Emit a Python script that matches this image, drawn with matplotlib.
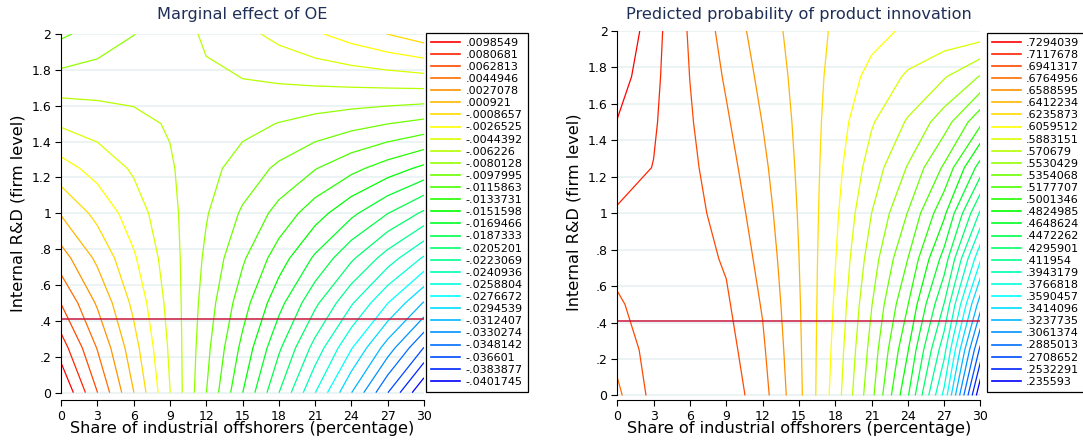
import matplotlib
matplotlib.use("Agg")
import matplotlib.pyplot as plt
from matplotlib.colors import hsv_to_rgb
from matplotlib.lines import Line2D

# grid the surfaces were evaluated on
offshore_share = [0, 3, 6, 9, 12, 15, 18, 21, 24, 27, 30]
rd_level = [0, 0.25, 0.5, 0.75, 1.0, 1.25, 1.5, 1.75, 2.0]
rd_mean = 0.41

# marginal effect of OE, one row per R&D level
marginal_effect = [
    [0.011680, 0.006320, 0.000959, -0.004401, -0.009762, -0.015122, -0.020482, -0.025843, -0.031203, -0.036564, -0.041924],
    [0.008956, 0.004394, -0.000167, -0.004729, -0.009290, -0.013852, -0.018414, -0.022975, -0.027537, -0.032099, -0.036660],
    [0.006233, 0.002470, -0.001293, -0.005056, -0.008819, -0.012582, -0.016345, -0.020108, -0.023871, -0.027633, -0.031396],
    [0.003509, 0.000545, -0.002419, -0.005384, -0.008348, -0.011312, -0.014276, -0.017240, -0.020204, -0.023168, -0.026132],
    [0.000785, -0.001381, -0.003546, -0.005711, -0.007877, -0.010042, -0.012207, -0.014373, -0.016538, -0.018704, -0.020869],
    [-0.001939, -0.003305, -0.004672, -0.006039, -0.007405, -0.008772, -0.010139, -0.011505, -0.012872, -0.014239, -0.015606],
    [-0.004663, -0.005230, -0.005798, -0.006366, -0.006934, -0.007502, -0.008070, -0.008638, -0.009206, -0.009774, -0.010342],
    [-0.007386, -0.007155, -0.006924, -0.006694, -0.006463, -0.006232, -0.006001, -0.005770, -0.005540, -0.005309, -0.005078],
    [-0.010110, -0.009080, -0.008051, -0.007021, -0.005992, -0.004962, -0.003932, -0.002903, -0.001873, -0.000844, 0.000186],
]
me_levels = [.0098549, .0080681, .0062813, .0044946, .0027078, .000921, -.0008657,
             -.0026525, -.0044392, -.006226, -.0080128, -.0097995, -.0115863,
             -.0133731, -.0151598, -.0169466, -.0187333, -.0205201, -.0223069,
             -.0240936, -.0258804, -.0276672, -.0294539, -.0312407, -.0330274,
             -.0348142, -.036601, -.0383877, -.0401745]

# predicted probability of product innovation
prob_innovation = [
    [0.6728, 0.6998, 0.7074, 0.7056, 0.6834, 0.6458, 0.5980, 0.5405, 0.4666, 0.3714, 0.2180],
    [0.6821, 0.7021, 0.7054, 0.7011, 0.6792, 0.6443, 0.6009, 0.5469, 0.4836, 0.4001, 0.2657],
    [0.6914, 0.7044, 0.7035, 0.6966, 0.6751, 0.6429, 0.6038, 0.5539, 0.5007, 0.4288, 0.3134],
    [0.7008, 0.7067, 0.7016, 0.6922, 0.6709, 0.6414, 0.6067, 0.5619, 0.5177, 0.4575, 0.3611],
    [0.7101, 0.7090, 0.6997, 0.6877, 0.6668, 0.6400, 0.6096, 0.5707, 0.5347, 0.4862, 0.4088],
    [0.7194, 0.7113, 0.6978, 0.6832, 0.6627, 0.6385, 0.6125, 0.5804, 0.5517, 0.5149, 0.4565],
    [0.7287, 0.7137, 0.6958, 0.6787, 0.6585, 0.6371, 0.6153, 0.5901, 0.5687, 0.5436, 0.5042],
    [0.7381, 0.7160, 0.6939, 0.6743, 0.6544, 0.6356, 0.6182, 0.6007, 0.5858, 0.5723, 0.5519],
    [0.7474, 0.7183, 0.6920, 0.6698, 0.6502, 0.6342, 0.6211, 0.6119, 0.6028, 0.6010, 0.5996],
]
prob_levels = [.7294039, .7117678, .6941317, .6764956, .6588595, .6412234, .6235873,
               .6059512, .5883151, .570679, .5530429, .5354068, .5177707, .5001346,
               .4824985, .4648624, .4472262, .4295901, .411954, .3943179, .3766818,
               .3590457, .3414096, .3237735, .3061374, .2885013, .2708652, .2532291,
               .235593]

x_ticks = [0, 3, 6, 9, 12, 15, 18, 21, 24, 27, 30]
y_ticks = [0, 0.2, 0.4, 0.6, 0.8, 1.0, 1.2, 1.4, 1.6, 1.8, 2.0]
y_ticklabels = ["0", ".2", ".4", ".6", ".8", "1", "1.2", "1.4", "1.6", "1.8", "2"]

W, H = 1083, 442
TITLE_COLOR = "#1f2f57"
GRID_COLOR = "#e8f1f2"
REF_COLOR = "#c8163c"


def stata_fmt(v):
    s = repr(v)
    return s.replace("-0.", "-.") if s.startswith("-") else s.replace("0.", ".", 1)


def draw_panel(fig, rect, z, levels, title, ybottom, legend_left):
    ax = fig.add_axes(rect)
    n = len(levels)
    # highest level red, lowest blue (hue rule)
    colours = [hsv_to_rgb((0.6667 * i / (n - 1), 1.0, 1.0)) for i in range(n)]
    ax.contour(offshore_share, rd_level, z, levels=levels[::-1],
               colors=colours[::-1], linewidths=0.9)
    ax.axhline(rd_mean, color=REF_COLOR, lw=1.1)

    ax.set_xlim(0, 30)
    ax.set_ylim(ybottom, 2.0)
    ax.set_xticks(x_ticks)
    ax.set_yticks(y_ticks)
    ax.set_yticklabels(y_ticklabels)
    ax.yaxis.grid(True, color=GRID_COLOR, lw=1.2)
    ax.set_axisbelow(True)
    for side in ("top", "right"):
        ax.spines[side].set_visible(False)
    ax.spines["left"].set_bounds(0, 2)
    ax.spines["bottom"].set_bounds(0, 30)
    ax.tick_params(direction="out", length=4, width=0.8, labelsize=9, pad=3)

    ax.set_xlabel("Share of industrial offshorers (percentage)", fontsize=11.6, labelpad=0)
    ax.set_ylabel("Internal R&D (firm level)", fontsize=11.6)
    ax.xaxis.set_label_coords(0.5, -0.057)
    ax.yaxis.set_label_coords(-0.099, 0.51)

    cx = rect[0] + rect[2] / 2
    fig.text(cx, 1 - 15 / H, title, ha="center", va="center",
             fontsize=11.6, color=TITLE_COLOR)

    handles = [Line2D([], [], color=c, lw=1.2) for c in colours]
    labels = [stata_fmt(v) for v in levels]
    leg = ax.legend(handles, labels, loc="upper left",
                    bbox_to_anchor=(legend_left / W, 1 - 32.7 / H),
                    bbox_transform=fig.transFigure, fontsize=8,
                    handlelength=2.6, handletextpad=0.5, labelspacing=0.19,
                    borderpad=0.45, borderaxespad=0, fancybox=False,
                    framealpha=1, edgecolor="black")
    leg.get_frame().set_linewidth(0.9)
    return ax


fig = plt.figure(figsize=(W / 100, H / 100), dpi=100)

draw_panel(fig, [61 / W, 1 - 400 / H, 363 / W, 366 / H], marginal_effect,
           me_levels, "Marginal effect of OE", -0.041, 426)
draw_panel(fig, [617.3 / W, 1 - 400 / H, 363.2 / W, 369 / H], prob_innovation,
           prob_levels, "Predicted probability of product innovation", -0.025, 986.7)

fig.savefig("out.png", dpi=100)
